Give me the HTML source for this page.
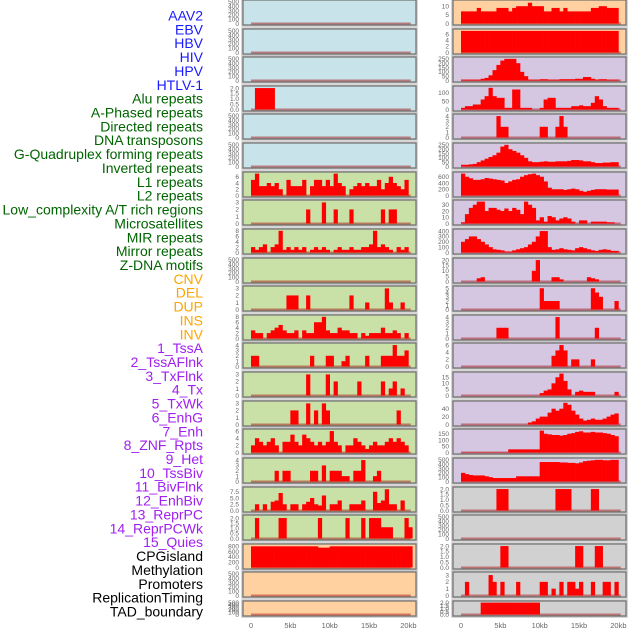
<!DOCTYPE html>
<html><head><meta charset="utf-8">
<style>
html,body{margin:0;padding:0;background:#fff;}
svg{display:block;font-family:"Liberation Sans",sans-serif;}
</style></head>
<body>
<svg id="chart" width="630" height="630" viewBox="0 0 630 630" xmlns="http://www.w3.org/2000/svg"></svg>
<script>
// ---- labels ----
const labelNames = ["AAV2","EBV","HBV","HIV","HPV","HTLV-1","Alu repeats","A-Phased repeats","Directed repeats","DNA transposons","G-Quadruplex forming repeats","Inverted repeats","L1 repeats","L2 repeats","Low_complexity A/T rich regions","Microsatellites","MIR repeats","Mirror repeats","Z-DNA motifs","CNV","DEL","DUP","INS","INV","1_TssA","2_TssAFlnk","3_TxFlnk","4_Tx","5_TxWk","6_EnhG","7_Enh","8_ZNF_Rpts","9_Het","10_TssBiv","11_BivFlnk","12_EnhBiv","13_ReprPC","14_ReprPCWk","15_Quies","CPGisland","Methylation","Promoters","ReplicationTiming","TAD_boundary"];
const labelGroups = ["v","v","v","v","v","v","r","r","r","r","r","r","r","r","r","r","r","r","r","s","s","s","s","s","c","c","c","c","c","c","c","c","c","c","c","c","c","c","c","o","o","o","o","o"];
const xTickLabels = ["0","5kb","10kb","15kb","20kb"];
const xTickValues = [0,5,10,15,20];

// ---- left column data (0.5kb bins) ----
const L0=[],L1=[],L2=[],L4=[],L5=[],L9=[],L20=[],L21=[];
const L3=[0,2,2,2,2,2];
const L6=[5,7,3,3,4,3,4,2,0,5,3,3,3,5,0,3,5,5,3,5,3,7,4,3,0,2,3,4,3,4,3,3,5,2,4,6,4,3,2,5];
const L7=[0,0,0,0,0,0,0,0,0,0,0,0,0,0,2,0,0,0,3,0,0,2,0,0,0,2,0,0,0,0,0,0,0,2,0,2,2];
const L8=[2,1,2,3,0,2,3,8,1,2,1,2,1,2,0,1,2,1,2,1,0,1,2,1,1,2,1,1,2,2,3,8,2,3,2,1,0,2,1,2];
const L10=[0,0,0,0,0,0,0,0,0,2,2,2,0,0,2,0,0,0,0,0,0,0,0,0,0,2,0,0,0,1,0,0,0,0,3,1,0,0,1];
const L11=[3,2,2,0,2,3,4,5,3,2,2,3,0,3,2,2,6,6,8,3,2,2,4,3,3,2,2,0,2,1,2,2,2,4,2,2,3,2,0,2];
const L12=[2,2,0,0,0,0,0,0,0,0,0,0,0,0,0,2,0,0,0,2,2,0,0,1,2,0,0,0,0,2,0,0,0,2,2,2,4,2,2,3];
const L13=[0,0,0,0,0,0,0,0,0,0,0,0,0,0,3,0,0,0,0,3,0,2,0,0,0,0,0,2,0,0,0,0,0,2,0,1,2,0,1];
const L14=[0,0,0,0,0,0,0,0,0,0,2,2,0,0,3,0,2,0,3,2,0,0,0,0,0,0,0,0,0,0,0,0,0,0,0,0,0,2];
const L15=[2,4,3,2,3,4,2,0,3,3,5,3,2,5,4,3,2,3,2,3,6,3,2,0,2,2,4,3,2,1,2,3,2,2,3,4,3,4,3,2];
const L16=[0,0,0,0,0,0,2,0,2,2,0,0,0,0,0,2,2,0,3,0,2,2,2,1,1,0,2,2,4,0,0,1,2];
const L17=[0,2.5,0,2.5,0,3.5,4,7,2.5,0,2.5,2.5,0,2.5,3.5,5,2.5,2,6,0,2.5,2.5,4,0,0,2.5,2.5,2.5,4,0,0,7.5,3,4,8.5,2.5,2.5,0,4,0];
const L18=[0,2,0,0,0,0,0,2,2,0,0,0,0,0,0,0,0,2,0,0,0,0,0,0,2,0,0,0,2,0,2,2,2,1.1,1.1,1.1,0,0,0,2,1.1];
const L19=[800,800,800,800,800,800,800,800,800,800,800,800,800,800,800,800,800,750,750,750,800,800,800,800,800,800,800,800,800,800,800,800,800,800,800,800,800,800,800,800,800];

// ---- right column data (0.5kb bins) ----
const R0=[7,7,7,7,9,7,7,7,7,9,9,9,7,9,10,10,10,12,10,10,10,7,7,9,9,7,9,7,7,7,7,7,7,9,9,10,10,9,9,9];
const R1=[7,7,7,7,7,7,7,7,7,7,7,7,7,7,7,7,7,7,7,7,7,7,7,7,7,7,7,7,7,7,7,7,7,7,7,7,7,7,7,7];
const R2=[10,10,10,10,10,20,30,60,120,180,230,250,250,250,200,100,50,10,10,10,15,15,10,10,10,15,15,15,15,20,20,40,40,20,10,15,15,10,10,10];
const R3=[10,20,20,30,30,60,80,130,80,70,70,10,10,120,120,10,10,10,0,0,10,60,70,70,10,10,10,10,20,20,25,20,20,40,80,60,20,10,10,10];
const R4=[0,0,0,0,0,0,0,0,0,4,2,2,0,0,0,0,0,0,0,0,2,2,0,0,2,4,2];
const R5=[20,20,25,30,50,70,90,110,130,160,230,250,200,180,160,130,100,60,50,50,55,60,55,55,60,60,60,65,75,75,70,60,60,50,40,40,45,45,50,50];
const R6=[700,600,550,500,500,520,560,540,520,500,480,400,450,500,520,600,650,680,700,650,600,450,250,200,200,200,180,200,220,200,150,120,150,180,200,200,200,190,190,190];
const R7=[2,15,25,30,35,35,20,25,25,22,20,24,20,25,22,15,35,30,25,5,10,3,12,10,5,8,10,8,3,0,5,5,0,3,3,3,3,2,2,0];
const R8=[200,250,300,300,250,200,150,100,60,50,40,20,20,40,60,80,100,150,200,300,400,400,100,50,60,80,60,50,40,80,100,80,60,40,30,50,60,50,30,30];
const R9=[0,0,0,0,3,4,0,0,0,0,0,0,0,0,0,0,0,0,10,20,0,0,0,4,4,2,0,0,0,0,0,0,4,3,2];
const R10=[0,0,0,0,0,0,0,0,0,0,0,0,0,0,0,0,0,0,0,0,5,2,2,2,2,0,0,0,0,0,0,0,0,5,4,3,0,0,0,2];
const R11=[0,0,0,0,0,0,0,0,0,2,2,2,0,0,0,0,0,0,0,0,0,0,0,0,4,0,0,0,0,0,0,0,0,0,2];
const R12=[0,0,0,0,0,0,0,0,0,0,0,0,0,0,0,0,0,0,0,0,0,0,0,3,4.5,6,4.5,0,2,2,0,0,0,2];
const R13=[0,0,0,0,0,0,0,0,0,0,0,0,0,0,0,0,0,0,0,0,2,4,5,10,15,18,12,5,0,3,4,3,3,3,0,0,0,0,0,3];
const R14=[0,0,0,0,0,0,0,0,0,0,0,0,0,0,0,0,0,5,8,15,20,20,30,40,35,40,55,50,35,25,15,10,12,15,12,12,15,20,25,28];
const R15=[2,2,2,2,2,2,2,2,2,2,2,2,25,25,25,25,25,25,25,25,175,150,145,140,140,135,140,150,155,165,170,160,160,165,160,160,155,150,140,130];
const R16=[200,170,150,140,140,140,120,100,80,80,80,80,80,80,120,120,120,120,120,120,450,450,450,450,450,440,440,430,430,420,440,470,480,490,500,500,490,490,500,500];
const R17=[0,0,0,0,0,0,0,0,0,2,2,2,0,0,0,0,0,0,0,0,0,0,0,0,2,2,2,2,0,0,0,0,0,2,2];
const R18=[];
const R19=[0,0,0,0,0,0,0,0,0,0,2,2,0,0,0,0,0,0,0,0,0,0,0,0,0,0,0,0,0,2,2,0,0,0,2,2];
const R20=[0,2,0,0,0,0,0,3,2,0,2,0,0,0,2,0,0,0,0,0,2,2,0,1,0,2,0,2,2,1,2,0,0,2,0,0,2,2,0,2];
const R21=[0,0,0,0,0,2,2,2,2,2,2,2,2,2,2,2,2,2,2,2];

const leftSeries=[L0,L1,L2,L3,L4,L5,L6,L7,L8,L9,L10,L11,L12,L13,L14,L15,L16,L17,L18,L19,L20,L21];
const rightSeries=[R0,R1,R2,R3,R4,R5,R6,R7,R8,R9,R10,R11,R12,R13,R14,R15,R16,R17,R18,R19,R20,R21];
const leftMax=[520,520,520,2.1,520,520,7.2,3.2,8.3,520,3.2,8.3,4.2,3.2,3.2,6.3,4.2,9,2.2,850,520,520];
const rightMax=[13,7.3,260,135,4.2,260,720,36,420,21,5.3,4.2,6.3,18.5,57,180,520,2.1,520,2.1,3.3,2.1];
const T500=["0","100","200","300","400","500"], T2=["0.0","0.5","1.0","1.5","2.0"];
const leftTicks=[T500,T500,T500,T2,T500,T500,["0","2","4","6"],["0","1","2","3"],["0","2","4","6","8"],T500,["0","1","2","3"],["0","2","4","6","8"],["0","1","2","3","4"],["0","1","2","3"],["0","1","2","3"],["0","2","4","6"],["0","1","2","3","4"],["0.0","2.5","5.0","7.5"],T2,["0","200","400","600","800"],T500,T500];
const rightTicks=[["0","5","10"],["0","2","4","6"],["0","50","100","150","200","250"],["0","50","100"],["0","1","2","3","4"],["0","50","100","150","200","250"],["0","200","400","600"],["0","10","20","30"],["0","100","200","300","400"],["0","5","10","15","20"],["0","1","2","3","4","5"],["0","1","2","3","4"],["0","2","4","6"],["0","5","10","15"],["0","20","40"],["0","50","100","150"],T500,T2,T500,T2,["0","1","2","3"],T2];
const leftBg=["b","b","b","b","b","b","g","g","g","g","g","g","g","g","g","g","g","g","g","o","o","o"];
const rightBg=["o","o","p","p","p","p","p","p","p","p","p","p","p","p","p","p","p","g2","g2","g2","g2","g2"];

// ---- rendering ----
const NS="http://www.w3.org/2000/svg";
const svg=document.getElementById('chart');
const bgColors={b:"#c8e4ea",g:"#c9e1a7",o:"#ffd1a1",p:"#d5c6e1",g2:"#d1d1d1"};
const groupColors={v:"#1a1aff",r:"#006400",s:"#ffa500",c:"#a020f0",o:"#000000"};
const BIN=0.5, KBPX=7.87, PANEL_W=173;
function mk(tag,attrs){const e=document.createElementNS(NS,tag);for(const k in attrs)e.setAttribute(k,attrs[k]);return e;}
function rowTop(i){return Math.round(i*28.62);}
function rowH(i){return i===21?15:25;}
function xScale(col,kb){return (col===0?251:461)+kb*KBPX;}
function yScale(top,h,max,v){const yb=top+h-1.5, yt=top+1;return yb-(v/max)*(yb-yt);}

labelNames.forEach((name,i)=>{
  const t=mk('text',{x:203,y:(20.5+i*13.86).toFixed(1),'text-anchor':'end','font-size':'14',fill:groupColors[labelGroups[i]]});
  
  
  t.textContent=name;svg.appendChild(t);
});

function drawPanel(col,i,series,max,ticks,bg){
  const top=rowTop(i),h=rowH(i),px=col===0?243:453;
  const g=mk('g',{});
  
  
  svg.appendChild(g);
  g.appendChild(mk('rect',{x:px-0.5,y:top-0.5,width:PANEL_W+1,height:h+1,fill:'none',stroke:'#c8c8c8','stroke-width':2.5}));
  const bgr=mk('rect',{x:px,y:top,width:PANEL_W,height:h,fill:bgColors[bg]});
  
  
  g.appendChild(bgr);
  // baseline
  const yb=yScale(top,h,max,0);
  g.appendChild(mk('line',{x1:xScale(col,0),x2:xScale(col,20.3),y1:yb,y2:yb,stroke:'rgba(160,0,0,0.45)','stroke-width':2}));
  series.forEach((v,k)=>{
    if(!v)return;
    const x=xScale(col,k*BIN), y=yScale(top,h,max,v);
    const r=mk('rect',{x:x.toFixed(2),y:y.toFixed(2),width:(BIN*KBPX+0.3).toFixed(2),height:(yb-y).toFixed(2),fill:'#ff0000'});
    
    
    g.appendChild(r);
  });
  g.appendChild(mk('rect',{x:px,y:top,width:PANEL_W,height:h,fill:'none',stroke:'#6e6e6e','stroke-width':1.2}));
  ticks.forEach(lbl=>{
    const v=parseFloat(lbl);
    const t=mk('text',{x:px-4,y:(yScale(top,h,max,v)+2.3).toFixed(1),'text-anchor':'end','font-size':'6.5',fill:'#666'});
    
    
    t.textContent=lbl;g.appendChild(t);
  });
}
for(let i=0;i<22;i++){
  drawPanel(0,i,leftSeries[i],leftMax[i],leftTicks[i],leftBg[i]);
  drawPanel(1,i,rightSeries[i],rightMax[i],rightTicks[i],rightBg[i]);
}
[0,1].forEach(col=>{
  xTickValues.forEach((v,k)=>{
    const t=mk('text',{x:xScale(col,v).toFixed(1),y:628,'text-anchor':'middle','font-size':'7.5',fill:'#666'});
    
    
    t.textContent=xTickLabels[k];svg.appendChild(t);
  });
});
</script>
</body></html>
